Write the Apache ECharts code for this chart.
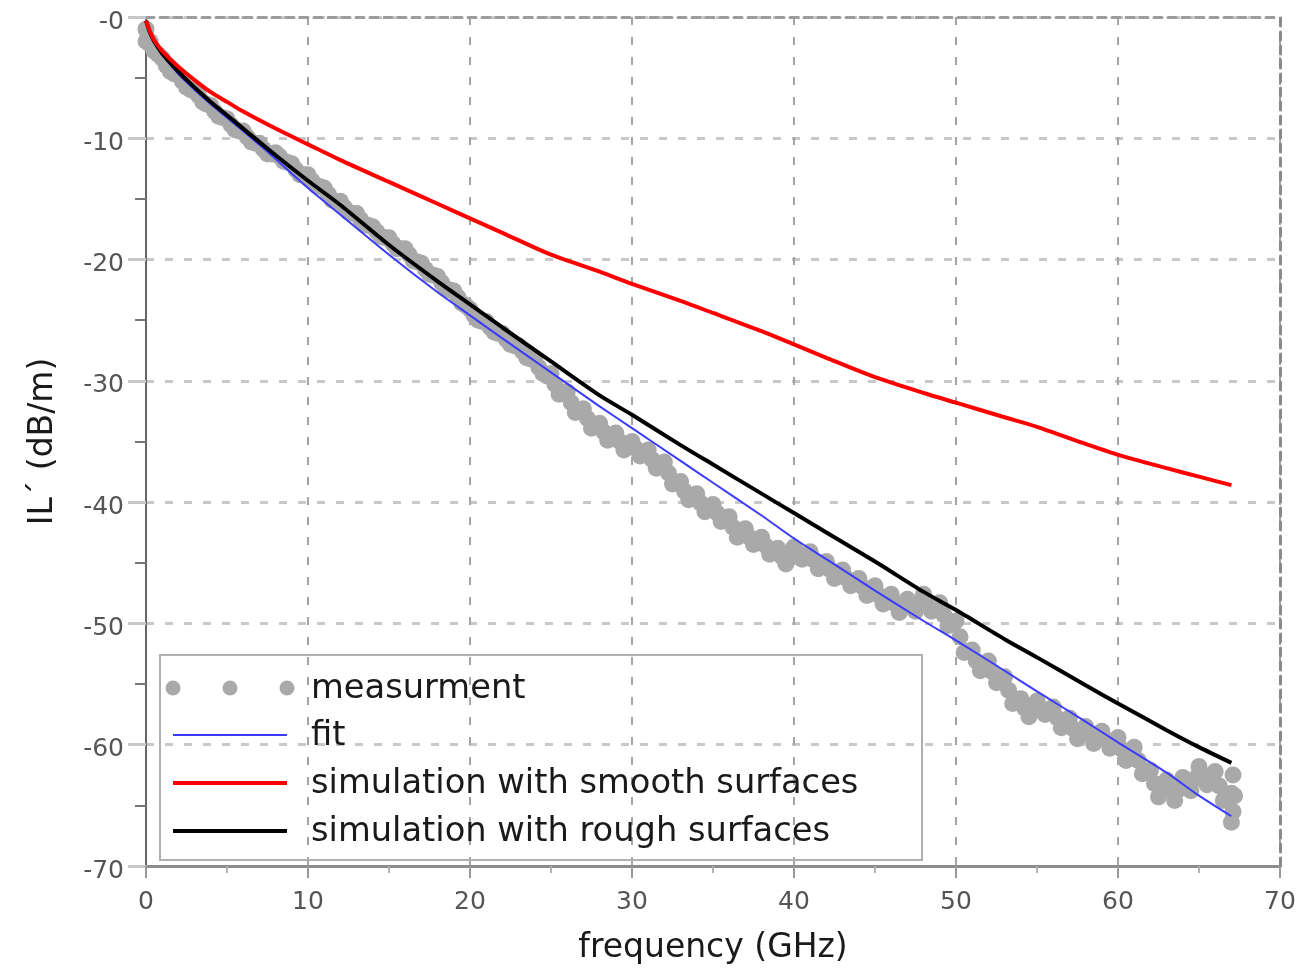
<!DOCTYPE html>
<html>
<head>
<meta charset="utf-8">
<title>Insertion loss vs frequency</title>
<script src="https://cdn.jsdelivr.net/npm/echarts@6/dist/echarts.min.js"></script>
<style>
  html, body { margin: 0; padding: 0; background: #ffffff; }
  #chart { width: 1305px; height: 970px; }
</style>
</head>
<body>
<div id="chart"></div>
<script>
// Axis ticks
const xTicks = [0, 10, 20, 30, 40, 50, 60, 70];
const yTicks = [-70, -60, -50, -40, -30, -20, -10, 0];

// Series names
const seriesNames = ['measurment', 'fit', 'simulation with smooth surfaces', 'simulation with rough surfaces'];

// Frequency grid (GHz) shared by the fit and both simulations
const freqSim = [0, 0.25, 0.5, 1, 2, 3, 4, 5, 6, 8,
  10, 12, 15, 18, 20, 22, 25, 28, 30, 33,
  35, 38, 40, 42, 45, 48, 50, 53, 55, 58,
  60, 63, 65, 67];

// IL' (dB/m)
const ilFit = [-0.4, -1.4, -2.1, -3.1, -4.7, -6.0, -7.2, -8.3, -9.4, -11.7,
  -14.1, -16.3, -19.6, -22.7, -24.6, -26.5, -29.3, -32.1, -33.9, -36.6,
  -38.4, -41.1, -43.0, -44.7, -47.3, -49.8, -51.4, -53.9, -55.6, -58.1,
  -59.8, -62.3, -64.2, -65.9];

const ilSmooth = [-0.3, -1.2, -1.9, -2.8, -4.1, -5.2, -6.2, -7.0, -7.8, -9.2,
  -10.5, -11.8, -13.6, -15.4, -16.6, -17.8, -19.6, -21.0, -22.0, -23.4,
  -24.4, -25.9, -27.0, -28.1, -29.7, -31.0, -31.8, -33.0, -33.8, -35.2,
  -36.1, -37.2, -37.9, -38.6];

const ilRough = [-0.3, -1.3, -2.0, -3.0, -4.5, -5.8, -7.0, -8.1, -9.2, -11.4,
  -13.5, -15.5, -18.8, -21.8, -23.7, -25.6, -28.4, -31.2, -32.8, -35.3,
  -36.9, -39.3, -40.9, -42.5, -44.9, -47.4, -48.9, -51.3, -52.8, -55.1,
  -56.6, -58.8, -60.2, -61.5];

// Measured IL' samples on the half-GHz steps
const measFreq = [0, 0.5, 1, 1.5, 2, 2.5, 3, 3.5, 4, 4.5,
  5, 5.5, 6, 6.5, 7, 7.5, 8, 8.5, 9, 9.5,
  10, 10.5, 11, 11.5, 12, 12.5, 13, 13.5, 14, 14.5,
  15, 15.5, 16, 16.5, 17, 17.5, 18, 18.5, 19, 19.5,
  20, 20.5, 21, 21.5, 22, 22.5, 23, 23.5, 24, 24.5,
  25, 25.5, 26, 26.5, 27, 27.5, 28, 28.5, 29, 29.5,
  30, 30.5, 31, 31.5, 32, 32.5, 33, 33.5, 34, 34.5,
  35, 35.5, 36, 36.5, 37, 37.5, 38, 38.5, 39, 39.5,
  40, 40.5, 41, 41.5, 42, 42.5, 43, 43.5, 44, 44.5,
  45, 45.5, 46, 46.5, 47, 47.5, 48, 48.5, 49, 49.5,
  50, 50.5, 51, 51.5, 52, 52.5, 53, 53.5, 54, 54.5,
  55, 55.5, 56, 56.5, 57, 57.5, 58, 58.5, 59, 59.5,
  60, 60.5, 61, 61.5, 62, 62.5, 63, 63.5, 64, 64.5,
  65, 65.5, 66, 66.5, 67,
  0, 0.2, 67.1, 67.1, 67.0];

const measIL = [-1.0, -2.8, -3.4, -4.5, -4.8, -5.8, -6.1, -7.0, -7.3, -8.2,
  -8.4, -9.3, -9.4, -10.3, -10.4, -11.3, -11.2, -11.9, -12.1, -13.0,
  -13.0, -13.9, -14.1, -15.1, -15.2, -16.1, -16.2, -17.1, -17.3, -18.1,
  -18.2, -19.1, -19.1, -20.1, -20.3, -21.2, -21.4, -22.4, -22.6, -23.6,
  -24.1, -25.0, -25.1, -26.0, -26.1, -27.0, -27.1, -28.1, -28.3, -29.4,
  -29.4, -31.1, -30.9, -32.6, -32.3, -33.9, -33.5, -34.9, -34.3, -35.7,
  -35.0, -36.2, -35.7, -37.2, -36.7, -38.5, -38.3, -39.8, -39.3, -40.8,
  -40.2, -41.6, -41.2, -42.9, -42.2, -43.5, -42.9, -44.3, -43.8, -45.1,
  -43.7, -44.7, -44.1, -45.5, -44.9, -46.3, -45.6, -46.9, -46.3, -47.7,
  -46.9, -48.4, -47.6, -49.1, -48.0, -49.0, -47.6, -49.0, -48.3, -50.2,
  -49.8, -52.4, -52.2, -53.9, -53.1, -54.9, -54.4, -56.6, -56.2, -57.7,
  -56.4, -57.5, -56.9, -58.6, -57.8, -59.5, -58.5, -59.9, -58.9, -60.3,
  -59.4, -61.3, -60.2, -62.4, -62.1, -64.3, -62.9, -64.6, -62.7, -63.8,
  -61.8, -63.3, -62.2, -64.6, -64.0,
  -2.0, -2.2, -62.5, -65.5, -66.4];

// Measured IL' samples between the half-GHz steps
const measFreqMid = [0.25, 0.75, 1.25, 1.75, 2.25, 2.75, 3.25, 3.75, 4.25, 4.75,
  5.25, 5.75, 6.25, 6.75, 7.25, 7.75, 8.25, 8.75, 9.25, 9.75,
  10.25, 10.75, 11.25, 11.75, 12.25, 12.75, 13.25, 13.75, 14.25, 14.75,
  15.25, 15.75, 16.25, 16.75, 17.25, 17.75, 18.25, 18.75, 19.25, 19.75,
  20.25, 20.75, 21.25, 21.75, 22.25, 22.75, 23.25, 23.75, 24.25, 24.75,
  25.25, 25.75, 26.25, 26.75, 27.25, 27.75, 28.25, 28.75, 29.25, 29.75,
  30.25, 30.75, 31.25, 31.75, 32.25, 32.75, 33.25, 33.75, 34.25, 34.75,
  35.25, 35.75, 36.25, 36.75, 37.25, 37.75, 38.25, 38.75, 39.25, 39.75,
  40.25, 40.75, 41.25, 41.75, 42.25, 42.75, 43.25, 43.75, 44.25, 44.75,
  45.25, 45.75, 46.25, 46.75, 47.25, 47.75, 48.25, 48.75, 49.25, 49.75,
  50.25, 50.75, 51.25, 51.75, 52.25, 52.75, 53.25, 53.75, 54.25, 54.75,
  55.25, 55.75, 56.25, 56.75, 57.25, 57.75, 58.25, 58.75, 59.25, 59.75,
  60.25, 60.75, 61.25, 61.75, 62.25, 62.75, 63.25, 63.75, 64.25, 64.75,
  65.25, 65.75, 66.25, 66.75, 67.2];

const measILMid = [-2.0, -3.1, -4.0, -4.7, -5.3, -6.0, -6.5, -7.2, -7.8, -8.3,
  -8.9, -9.4, -9.9, -10.4, -10.9, -11.3, -11.5, -12.0, -12.6, -13.0,
  -13.5, -14.0, -14.6, -15.2, -15.7, -16.2, -16.7, -17.2, -17.7, -18.2,
  -18.7, -19.1, -19.6, -20.2, -20.8, -21.3, -21.9, -22.5, -23.1, -23.8,
  -24.6, -25.1, -25.6, -26.1, -26.6, -27.1, -27.6, -28.2, -28.9, -29.6,
  -30.3, -31.0, -31.8, -32.5, -33.1, -33.7, -34.2, -34.6, -35.0, -35.4,
  -35.6, -36.0, -36.5, -37.0, -37.6, -38.4, -39.1, -39.6, -40.1, -40.5,
  -40.9, -41.4, -42.1, -42.6, -42.9, -43.2, -43.6, -44.1, -44.5, -44.4,
  -44.2, -44.4, -44.8, -45.2, -45.6, -46.0, -46.3, -46.6, -47.0, -47.4,
  -47.7, -48.0, -48.4, -48.6, -48.5, -48.3, -48.3, -48.7, -49.3, -50.0,
  -51.1, -52.3, -53.1, -53.5, -54.0, -54.7, -55.5, -56.4, -57.0, -57.1,
  -57.0, -57.2, -57.8, -58.2, -58.7, -59.0, -59.2, -59.4, -59.6, -60.0,
  -60.4, -60.8, -61.3, -62.3, -63.2, -63.6, -63.8, -63.7, -63.3, -62.8,
  -62.5, -62.7, -63.4, -64.4, -64.2];

const FONT = 'DejaVu Sans';
const COLORS = { meas: '#a9a9a9', fit: '#3b3bff', smooth: '#ff0000', rough: '#000000' };

const zip = (xs, ys) => xs.map((x, i) => [x, ys[i]]);

const chart = echarts.init(document.getElementById('chart'), null, { renderer: 'canvas' });

// Legend drawn as a framed box with sample marks and labels
const legendRows = [688, 735, 783, 831];
const legendGraphics = [
  { type: 'rect', shape: { x: 160, y: 655, width: 762, height: 205 },
    style: { fill: 'rgba(0,0,0,0)', stroke: '#b0b0b0', lineWidth: 2 }, z: 100 },
  { type: 'circle', shape: { cx: 173, cy: legendRows[0], r: 7.5 }, style: { fill: COLORS.meas }, z: 101 },
  { type: 'circle', shape: { cx: 230, cy: legendRows[0], r: 7.5 }, style: { fill: COLORS.meas }, z: 101 },
  { type: 'circle', shape: { cx: 287, cy: legendRows[0], r: 7.5 }, style: { fill: COLORS.meas }, z: 101 },
  { type: 'line', shape: { x1: 173, y1: legendRows[1], x2: 287, y2: legendRows[1] },
    style: { stroke: COLORS.fit, lineWidth: 2 }, z: 101 },
  { type: 'line', shape: { x1: 173, y1: legendRows[2], x2: 287, y2: legendRows[2] },
    style: { stroke: COLORS.smooth, lineWidth: 4 }, z: 101 },
  { type: 'line', shape: { x1: 173, y1: legendRows[3], x2: 287, y2: legendRows[3] },
    style: { stroke: COLORS.rough, lineWidth: 4 }, z: 101 }
];
seriesNames.forEach((name, i) => {
  legendGraphics.push({
    type: 'text', x: 311, y: legendRows[i] + 1, z: 101,
    style: { text: name, font: '33.7px "' + FONT + '"', fill: '#1a1a1a', verticalAlign: 'middle', align: 'left' }
  });
});

const lineCommon = { type: 'line', showSymbol: false, symbol: 'none', smooth: 0.25, animation: false };

chart.setOption({
  backgroundColor: '#ffffff',
  animation: false,
  grid: { left: 146, right: 25, top: 17, bottom: 98, show: false },
  xAxis: [
    {
      type: 'value', min: xTicks[0], max: xTicks[xTicks.length - 1], interval: 10,
      position: 'bottom',
      name: 'frequency (GHz)', nameLocation: 'middle', nameGap: 66,
      nameTextStyle: { fontFamily: FONT, fontSize: 33, color: '#1a1a1a' },
      axisLine: { show: true, onZero: false, lineStyle: { color: '#8c8c8c', width: 3 } },
      axisTick: { show: true, length: 12, lineStyle: { color: '#9a9a9a', width: 2 } },
      minorTick: { show: true, splitNumber: 2, length: 7, lineStyle: { color: '#b0b0b0', width: 2 } },
      axisLabel: { fontFamily: FONT, fontSize: 25, color: '#555555', margin: 24 },
      splitLine: { show: true, lineStyle: { type: [8, 12], color: '#a4a4a4', width: 2 } }
    },
    {
      type: 'value', min: xTicks[0], max: xTicks[xTicks.length - 1], interval: 10,
      position: 'top',
      axisLine: { show: true, onZero: false, lineStyle: { color: '#9c9c9c', width: 3, type: [8, 6] } },
      axisTick: { show: false }, axisLabel: { show: false }, splitLine: { show: false }
    }
  ],
  yAxis: [
    {
      type: 'value', min: yTicks[0], max: yTicks[yTicks.length - 1], interval: 10,
      position: 'left',
      name: 'IL\u00b4 (dB/m)', nameLocation: 'middle', nameGap: 86,
      nameTextStyle: { fontFamily: FONT, fontSize: 33, color: '#1a1a1a' },
      axisLine: { show: true, onZero: false, lineStyle: { color: '#666666', width: 2 } },
      axisTick: { show: true, length: 18, lineStyle: { color: '#c8c8c8', width: 3 } },
      minorTick: { show: true, splitNumber: 2, length: 11, lineStyle: { color: '#777777', width: 2 } },
      axisLabel: {
        margin: 22,
        formatter: v => '{t|' + (v === 0 ? '-0' : String(v)) + '}',
        rich: { t: { fontFamily: FONT, fontSize: 25, color: '#555555', padding: [10, 0, 0, 0] } }
      },
      splitLine: { show: true, lineStyle: { type: [8, 11], color: '#c8c8c8', width: 3 } }
    },
    {
      type: 'value', min: yTicks[0], max: yTicks[yTicks.length - 1], interval: 10,
      position: 'right',
      axisLine: { show: true, onZero: false, lineStyle: { color: '#8a8a8a', width: 3, type: [8, 6] } },
      axisTick: { show: false }, axisLabel: { show: false }, splitLine: { show: false }
    }
  ],
  graphic: legendGraphics,
  series: [
    {
      name: seriesNames[0], type: 'scatter', symbol: 'circle', symbolSize: 17,
      itemStyle: { color: COLORS.meas, opacity: 1 },
      data: zip(measFreq, measIL).concat(zip(measFreqMid, measILMid)), z: 2, animation: false
    },
    Object.assign({}, lineCommon, {
      name: seriesNames[1], data: zip(freqSim, ilFit), z: 3,
      lineStyle: { color: COLORS.fit, width: 2 }, itemStyle: { color: COLORS.fit }
    }),
    Object.assign({}, lineCommon, {
      name: seriesNames[3], data: zip(freqSim, ilRough), z: 4,
      lineStyle: { color: COLORS.rough, width: 4 }, itemStyle: { color: COLORS.rough }
    }),
    Object.assign({}, lineCommon, {
      name: seriesNames[2], data: zip(freqSim, ilSmooth), z: 5,
      lineStyle: { color: COLORS.smooth, width: 4 }, itemStyle: { color: COLORS.smooth }
    })
  ]
});
</script>
</body>
</html>
